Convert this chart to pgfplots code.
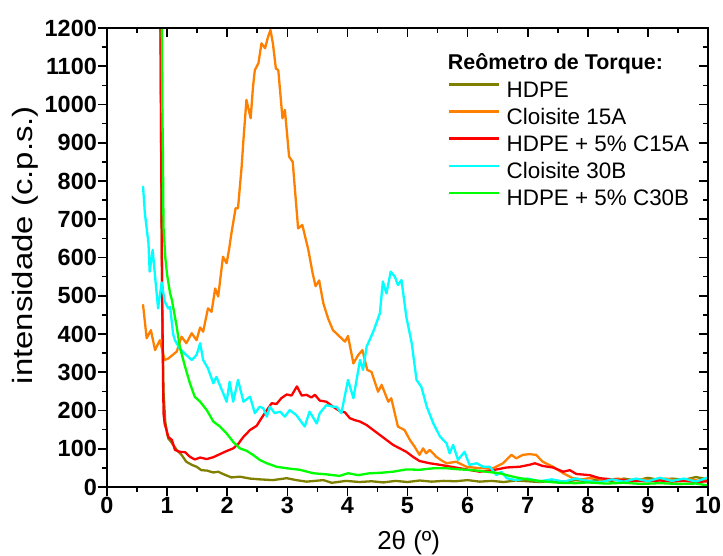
\documentclass[border=0pt]{standalone}
\usepackage{fontspec}
\setmainfont{Liberation Sans}
\usepackage{graphicx}
\usepackage{pgfplots}
\pgfplotsset{compat=1.18}

\definecolor{cHDPE}{RGB}{128,128,0}
\definecolor{cC15A}{RGB}{255,128,0}
\definecolor{cPE15}{RGB}{255,0,0}
\definecolor{cC30B}{RGB}{0,255,255}
\definecolor{cPE30}{RGB}{0,255,0}

\pgfplotsset{
  frame/.style={
    scale only axis, width=601bp, height=459bp,
    xmin=0, xmax=10, ymin=0, ymax=1200,
    xtick={0,...,10}, ytick={0,100,...,1200},
    minor x tick num=1, minor y tick num=1,
    major tick length=9bp, minor tick length=5bp,
    axis line style={line width=1.6bp},
    every tick/.append style={black, line width=1.6bp},
  }
}

\begin{document}
\begin{tikzpicture}
\begin{axis}[
  frame,
  xtick pos=left, ytick pos=left, tick align=outside,
  /pgf/number format/assume math mode=true,
  /pgf/number format/1000 sep={},
  ticklabel style={font=\bfseries\fontsize{23.5}{23.5}\selectfont, inner sep=1bp},
  xlabel={2θ (º)},
  xlabel style={font=\fontsize{26}{26}\selectfont, at={(axis description cs:0.502,-0.122)}, anchor=center},
  ylabel={\scalebox{1.18}[1]{intensidade (c.p.s.)}},
  ylabel style={font=\fontsize{28}{28}\selectfont, at={(axis description cs:-0.136,0.527)}, anchor=center},
  clip=true,
  every axis plot/.append style={line width=2.3bp, line join=round, line cap=round},
  legend style={draw=none, fill=none, at={(rel axis cs:0.566,0.884)}, anchor=north west,
    inner sep=0pt, row sep=6.1bp, font=\fontsize{22.5}{22.5}\selectfont,
    nodes={text height=15bp, text depth=4bp, inner sep=1bp},
    /tikz/every odd column/.append style={column sep=6bp}},
  legend cell align=left,
  legend image code/.code={\draw[#1, line cap=butt] (0bp,7.5bp) -- (50bp,7.5bp);},
]
% HDPE
\addplot[cHDPE] coordinates {
(0.885,1500) (0.90,900) (0.92,450) (0.94,250) (0.97,170) (1.00,140) (1.02,127)
(1.08,115) (1.16,97) (1.24,84) (1.32,66) (1.41,58) (1.49,53) (1.57,44) (1.66,43)
(1.77,38) (1.85,40) (1.93,34) (2.07,25) (2.21,27) (2.38,22) (2.54,20) (2.76,18)
(2.99,23) (3.15,18) (3.32,14) (3.60,18) (3.74,11) (3.98,16) (4.2,13) (4.4,15)
(4.6,12) (4.8,16) (5.0,13) (5.2,17) (5.4,14) (5.6,16) (5.8,15) (6.0,18) (6.2,14)
(6.4,16) (6.6,13) (6.8,17) (7.0,15) (7.2,13) (7.4,16) (7.6,14) (7.8,18) (8.0,15)
(8.2,20) (8.4,16) (8.6,22) (8.8,17) (9.0,24) (9.2,18) (9.4,22) (9.6,19) (9.8,26) (10,20)
};
\addlegendentry{HDPE}
% Cloisite 15A
\addplot[cC15A] coordinates {
(0.60,476) (0.66,389) (0.73,410) (0.80,358) (0.88,384) (0.96,332) (1.02,336)
(1.16,354) (1.24,393) (1.32,376) (1.41,402) (1.49,384) (1.55,417) (1.60,406)
(1.68,467) (1.74,458) (1.80,519) (1.85,498) (1.93,602) (1.99,585) (2.03,620)
(2.07,663) (2.14,729) (2.18,729) (2.24,837) (2.27,907) (2.32,1012) (2.39,964)
(2.43,1047) (2.46,1090) (2.52,1108) (2.57,1160) (2.63,1147) (2.68,1177) (2.72,1195)
(2.76,1160) (2.81,1094) (2.85,1090) (2.92,964) (2.96,986) (3.03,864) (3.09,850)
(3.18,676) (3.25,685) (3.35,620) (3.42,560) (3.47,525) (3.53,540) (3.60,480)
(3.68,440) (3.76,410) (3.90,389) (3.96,380) (4.01,395) (4.10,323) (4.18,345)
(4.25,358) (4.33,306) (4.40,301) (4.51,249) (4.57,267) (4.68,223) (4.73,232)
(4.84,158) (4.95,149) (5.04,123) (5.12,105) (5.20,84) (5.26,101) (5.31,88)
(5.37,97) (5.48,79) (5.56,70) (5.65,62) (5.81,66) (5.98,53) (6.20,49) (6.42,49)
(6.59,62) (6.73,84) (6.81,75) (6.92,84) (7.03,86) (7.14,84) (7.25,66) (7.42,53)
(7.59,36) (7.75,23) (7.9,20) (8.1,25) (8.3,18) (8.5,22) (8.7,15) (8.9,20)
(9.1,17) (9.3,22) (9.5,16) (9.7,20) (9.9,15) (10,18)
};
\addlegendentry{Cloisite 15A}
% HDPE + 5% C15A
\addplot[cPE15] coordinates {
(0.885,1400) (0.895,1050) (0.905,800) (0.912,600) (0.925,400) (0.935,250) (0.942,190)
(0.96,165) (0.99,149) (1.02,131) (1.08,123) (1.13,97) (1.21,92) (1.30,91) (1.38,79)
(1.46,72) (1.55,77) (1.66,73) (1.77,78) (1.88,86) (1.99,94) (2.10,101) (2.18,112)
(2.27,131) (2.38,149) (2.49,160) (2.57,180) (2.66,201) (2.74,219) (2.82,217)
(2.90,232) (2.99,242) (3.07,239) (3.16,263) (3.24,239) (3.32,241) (3.40,234)
(3.46,241) (3.54,226) (3.65,223) (3.76,210) (3.87,199) (3.96,195) (4.04,180)
(4.12,175) (4.21,171) (4.32,162) (4.43,149) (4.54,136) (4.65,123) (4.76,110)
(4.87,101) (4.98,92) (5.09,79) (5.20,68) (5.37,62) (5.54,58) (5.87,49) (6.20,40)
(6.42,44) (6.65,51) (6.87,53) (7.03,58) (7.12,62) (7.25,55) (7.42,51) (7.59,40)
(7.70,44) (7.81,34) (8.03,31) (8.20,23) (8.4,20) (8.6,18) (8.8,16) (9.0,15)
(9.2,17) (9.4,14) (9.6,16) (9.8,13) (10,15)
};
\addlegendentry{HDPE + 5\% C15A}
% Cloisite 30B
\addplot[cC30B] coordinates {
(0.60,785) (0.63,716) (0.69,637) (0.71,563) (0.76,620) (0.80,550) (0.85,467)
(0.91,535) (0.96,485) (1.02,467) (1.05,471) (1.10,400) (1.13,384) (1.21,362)
(1.32,345) (1.41,332) (1.49,345) (1.55,376) (1.60,332) (1.68,310) (1.77,271)
(1.82,288) (1.91,254) (1.99,223) (2.04,275) (2.10,223) (2.18,280) (2.27,223)
(2.38,236) (2.46,193) (2.54,210) (2.60,206) (2.66,184) (2.71,210) (2.79,193)
(2.88,197) (2.96,184) (3.04,201) (3.15,188) (3.29,158) (3.37,197) (3.49,166)
(3.54,193) (3.65,214) (3.76,210) (3.82,210) (3.90,193) (4.01,280) (4.10,232)
(4.21,332) (4.26,306) (4.32,367) (4.43,406) (4.54,454) (4.59,537) (4.65,506)
(4.72,563) (4.79,550) (4.84,528) (4.90,541) (4.98,445) (5.07,376) (5.15,280)
(5.23,262) (5.32,210) (5.43,166) (5.54,132) (5.65,114) (5.70,88) (5.76,110)
(5.84,71) (5.95,92) (6.03,58) (6.15,62) (6.26,53) (6.37,53) (6.48,31) (6.56,40)
(6.65,23) (6.8,18) (7.0,22) (7.2,15) (7.4,20) (7.6,14) (7.8,22) (8.0,16)
(8.2,12) (8.4,20) (8.6,14) (8.8,22) (9.0,15) (9.2,24) (9.4,16) (9.6,22)
(9.8,14) (10,25)
};
\addlegendentry{Cloisite 30B}
% HDPE + 5% C30B
\addplot[cPE30] coordinates {
(0.905,1400) (0.92,1000) (0.93,880) (0.94,680) (0.97,600) (1.00,555) (1.05,506)
(1.08,489) (1.10,471) (1.16,419) (1.21,367) (1.30,314) (1.38,271) (1.46,236)
(1.55,223) (1.66,201) (1.77,171) (1.88,158) (1.99,140) (2.10,118) (2.21,101)
(2.32,95) (2.43,84) (2.54,71) (2.66,62) (2.82,53) (2.99,49) (3.21,45) (3.43,36)
(3.65,33) (3.87,29) (4.01,36) (4.18,31) (4.37,36) (4.54,37) (4.76,40) (4.98,46)
(5.20,45) (5.43,49) (5.65,49) (5.87,46) (6.09,44) (6.31,40) (6.53,36) (6.70,29)
(6.87,23) (7.09,18) (7.31,14) (7.53,11) (7.8,10) (8.0,12) (8.3,9) (8.6,11)
(8.9,8) (9.2,10) (9.5,8) (9.8,9) (10,4)
};
\addlegendentry{HDPE + 5\% C30B}
\node[anchor=west, inner sep=0pt, font=\bfseries\fontsize{21.5}{21.5}\selectfont]
  at (rel axis cs:0.567,0.922) {Reômetro de Torque:};
\end{axis}
\begin{axis}[
  frame,
  xtick pos=right, ytick pos=right, tick align=inside,
  xticklabels={}, yticklabels={},
]
\end{axis}
\pgfresetboundingbox
\path ([shift={(-107bp,-69bp)}]current axis.south west)
  rectangle ([shift={(15bp,28bp)}]current axis.north east);
\end{tikzpicture}
\end{document}
